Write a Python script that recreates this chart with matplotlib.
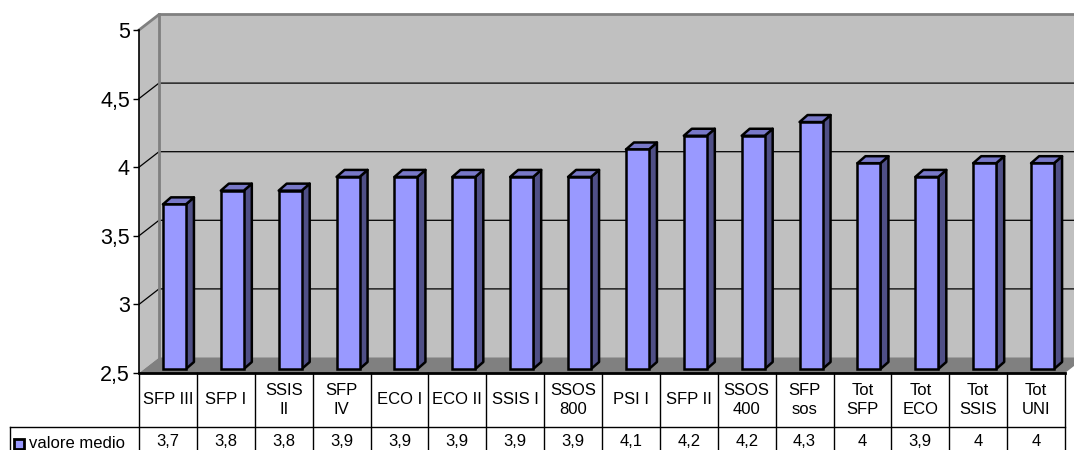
import numpy as np
import matplotlib
matplotlib.use('Agg')
import matplotlib.pyplot as plt
from matplotlib.patches import Polygon

plt.rcParams['font.family'] = ['Liberation Sans', 'DejaVu Sans']

categories = ['SFP III', 'SFP I', 'SSIS\nII', 'SFP\nIV', 'ECO I', 'ECO II', 'SSIS I', 'SSOS\n800',
              'PSI I', 'SFP II', 'SSOS\n400', 'SFP\nsos', 'Tot\nSFP', 'Tot\nECO', 'Tot\nSSIS', 'Tot\nUNI']
values = [3.7, 3.8, 3.8, 3.9, 3.9, 3.9, 3.9, 3.9, 4.1, 4.2, 4.2, 4.3, 4, 3.9, 4, 4]
value_labels = ['3,7', '3,8', '3,8', '3,9', '3,9', '3,9', '3,9', '3,9',
                '4,1', '4,2', '4,2', '4,3', '4', '3,9', '4', '4']
y_ticks = [2.5, 3, 3.5, 4, 4.5, 5]
y_labels = ['2,5', '3', '3,5', '4', '4,5', '5']
series_name = 'valore medio'

W, H = 1074, 450
fig = plt.figure(figsize=(W / 100, H / 100), dpi=100)

# area frontale del grafico in pixel
left, right, top, bottom = 139, 1065, 30, 373
ax = fig.add_axes([left / W, 1 - bottom / H, (right - left) / W, (bottom - top) / H])
ax.set_xlim(0, 16)
ax.set_ylim(2.5, 5)
ax.patch.set_visible(False)

ux = (right - left) / 16
uy = (bottom - top) / 2.5
dx = 20 / ux   # profondita' pareti
dy = 15.5 / uy
n = len(categories)

GREY = '#c0c0c0'
DARK = '#808080'

# pareti e pavimento
ax.add_patch(Polygon([(dx, 2.5 + dy), (n + dx, 2.5 + dy), (n + dx, 5 + dy), (dx, 5 + dy)],
                     fc=GREY, ec='none', clip_on=False, zorder=1))
ax.add_patch(Polygon([(0, 2.5), (dx, 2.5 + dy), (dx, 5 + dy), (0, 5)],
                     fc=GREY, ec='none', clip_on=False, zorder=1))
ax.add_patch(Polygon([(0, 2.5), (n, 2.5), (n + dx, 2.5 + dy), (dx, 2.5 + dy)],
                     fc=DARK, ec='none', clip_on=False, zorder=1.1))
ax.plot([0, dx, n + dx], [5, 5 + dy, 5 + dy], color=DARK, lw=2, clip_on=False, zorder=1.3)
ax.plot([dx, dx], [2.5 + dy, 5 + dy], color=DARK, lw=2, clip_on=False, zorder=1.3)

# griglia
for t in y_ticks[1:-1]:
    ax.plot([0, dx, n + dx], [t, t + dy, t + dy], color='black', lw=0.9, clip_on=False, zorder=1.2)

# barre 3D
bar_w = 23 / ux
bx = np.arange(n) + 0.5 + 6.5 / ux
off_x = 8 / ux
off_y = 7 / uy
lift = 4 / uy
vals = np.array(values)
ax.bar(bx, vals - 2.5, width=bar_w, bottom=2.5 + lift, color='#9999ff', edgecolor='black',
       lw=1.8, clip_on=False, zorder=3)
for x, v in zip(bx, vals):
    x0, x1 = x - bar_w / 2, x + bar_w / 2
    y0, y1 = 2.5 + lift, v + lift
    ax.add_patch(Polygon([(x1, y0), (x1 + off_x, y0 + off_y), (x1 + off_x, y1 + off_y), (x1, y1)],
                         fc='#4f4f86', ec='black', lw=1.8, joinstyle='round', clip_on=False, zorder=2.9))
    ax.add_patch(Polygon([(x0, y1), (x0 + off_x, y1 + off_y), (x1 + off_x, y1 + off_y), (x1, y1)],
                         fc='#7878c8', ec='black', lw=1.8, joinstyle='round', clip_on=False, zorder=2.9))

# assi
for s in ['top', 'right']:
    ax.spines[s].set_visible(False)
ax.spines['left'].set_linewidth(1.2)
ax.spines['left'].set_zorder(4)
ax.spines['bottom'].set_linewidth(2)
ax.spines['bottom'].set_zorder(4)
ax.set_yticks(y_ticks)
ax.set_yticklabels(y_labels, fontsize=15.5)
ax.tick_params(axis='y', length=4, width=1, pad=2.5)
ax.set_xticks([])

# tabella dati sotto il grafico, in pixel
tab = fig.add_axes([0, 0, 1, 1])
tab.set_xlim(0, W)
tab.set_ylim(H, 0)
tab.axis('off')
tab.patch.set_visible(False)
row_y = 427
for i in range(n + 1):
    x = left + i * ux
    tab.plot([x, x], [bottom, H], color='black', lw=1)
tab.plot([10, right], [row_y, row_y], color='black', lw=1)
tab.plot([10, 10], [row_y, H], color='black', lw=1)
for i in range(n):
    xc = left + (i + 0.5) * ux
    tab.text(xc, 400, categories[i], ha='center', va='center', fontsize=12, linespacing=1.35)
    tab.text(xc, 442, value_labels[i], ha='center', va='center', fontsize=12)
tab.add_patch(plt.Rectangle((14, 439), 10, 9.5, fc='#9999ff', ec='black', lw=2))
tab.text(29, 443, series_name, ha='left', va='center', fontsize=12)

fig.savefig('out.png', dpi=100)
